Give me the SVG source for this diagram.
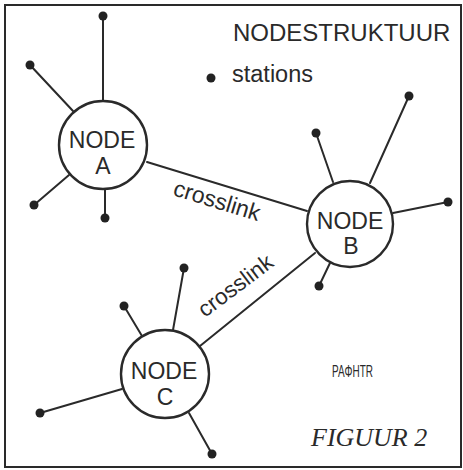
<svg xmlns="http://www.w3.org/2000/svg" width="463" height="470" viewBox="0 0 463 470">
<style>
  .frame{fill:none;stroke:#2a2a2a;stroke-width:2}
  .link{stroke:#2a2a2a;stroke-width:2;fill:none;stroke-linecap:round}
  .node{fill:#fff;stroke:#2a2a2a;stroke-width:2.4}
  .dot{fill:#222}
  .t{font-family:"Liberation Sans",Arial,sans-serif;fill:#2a2a2a}
  .n{font-size:23px;text-anchor:middle}
  .fig{font-family:"Liberation Serif","Times New Roman",serif;font-style:italic;font-size:26px;fill:#2a2a2a}
</style>
<rect width="463" height="470" fill="#fff"/>
<rect class="frame" x="5" y="5" width="456" height="462"/>
<g id="connectors">
  <line class="link" x1="147" y1="162" x2="307" y2="211"/>
  <line class="link" x1="315" y1="253" x2="200" y2="346"/>
  <line class="link" x1="103" y1="100" x2="103" y2="16"/>
  <line class="link" x1="73" y1="111" x2="30" y2="65"/>
  <line class="link" x1="69" y1="175" x2="34" y2="205"/>
  <line class="link" x1="105" y1="190" x2="105" y2="218"/>
  <line class="link" x1="333" y1="182" x2="316" y2="133"/>
  <line class="link" x1="370" y1="183" x2="409" y2="96"/>
  <line class="link" x1="393" y1="213" x2="448" y2="202"/>
  <line class="link" x1="330" y1="263" x2="319" y2="286"/>
  <line class="link" x1="142" y1="336" x2="124" y2="306"/>
  <line class="link" x1="173" y1="330" x2="184" y2="268"/>
  <line class="link" x1="122" y1="389" x2="40" y2="413"/>
  <line class="link" x1="189" y1="413" x2="212" y2="454"/>
</g>
<g id="stations">
  <circle class="dot" cx="103" cy="16" r="4.5"/>
  <circle class="dot" cx="30" cy="65" r="4.5"/>
  <circle class="dot" cx="34" cy="205" r="4.5"/>
  <circle class="dot" cx="105" cy="218" r="4.5"/>
  <circle class="dot" cx="316" cy="133" r="4.5"/>
  <circle class="dot" cx="409" cy="96" r="4.5"/>
  <circle class="dot" cx="448" cy="202" r="4.5"/>
  <circle class="dot" cx="319" cy="286" r="4.5"/>
  <circle class="dot" cx="124" cy="306" r="4.5"/>
  <circle class="dot" cx="184" cy="268" r="4.5"/>
  <circle class="dot" cx="40" cy="413" r="4.5"/>
  <circle class="dot" cx="212" cy="454" r="4.5"/>
</g>
<g id="nodeA">
  <circle class="node" cx="103" cy="145" r="44"/>
  <text class="t n" x="102" y="148">NODE</text>
  <text class="t n" x="103" y="174">A</text>
</g>
<g id="nodeB">
  <circle class="node" cx="350" cy="224" r="43"/>
  <text class="t n" x="350" y="229">NODE</text>
  <text class="t n" x="351" y="254">B</text>
</g>
<g id="nodeC">
  <circle class="node" cx="165" cy="374" r="44"/>
  <text class="t n" x="164" y="379">NODE</text>
  <text class="t n" x="165" y="405">C</text>
</g>
<g id="labels">
  <text class="t" x="172" y="195" font-size="23" transform="rotate(17 172 195)">crosslink</text>
  <text class="t" x="205" y="318" font-size="22.5" transform="rotate(-37 205 318)">crosslink</text>
  <text class="t" x="233" y="41" font-size="24">NODESTRUKTUUR</text>
  <circle class="dot" cx="211" cy="78" r="4.5"/>
  <text class="t" x="232" y="82" font-size="23.5">stations</text>
  <text class="t" x="332" y="377" font-size="17" textLength="41" lengthAdjust="spacingAndGlyphs">PAΦHTR</text>
  <text class="fig" x="311" y="446">FIGUUR 2</text>
</g>
</svg>
